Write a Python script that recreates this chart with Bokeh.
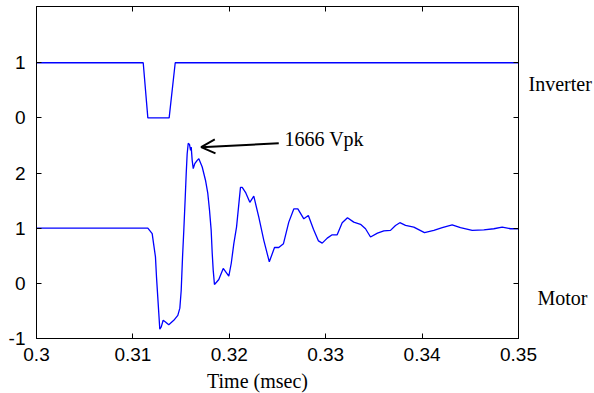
from bokeh.plotting import figure
from bokeh.models import (Range1d, LinearAxis, FixedTicker, Label, Arrow, OpenHead)
from bokeh.embed import file_html
from bokeh.resources import INLINE

# ---- data (time in msec, normalized voltages) ----
motor_t = [0.30000, 0.31155, 0.31200, 0.31217, 0.31234, 0.31245, 0.31258, 0.31269,
           0.31279, 0.31294, 0.31314, 0.31338, 0.31372, 0.31424, 0.31466, 0.31487,
           0.31501, 0.31515, 0.31528, 0.31543, 0.31553, 0.31563, 0.31574, 0.31587,
           0.31598, 0.31605, 0.31615, 0.31626, 0.31642, 0.31667, 0.31684, 0.31719,
           0.31753, 0.31777, 0.31795, 0.31812, 0.31823, 0.31833, 0.31846, 0.31867,
           0.31891, 0.31937, 0.31995, 0.32020, 0.32047, 0.32075, 0.32099, 0.32116,
           0.32134, 0.32168, 0.32213, 0.32254, 0.32306, 0.32358, 0.32415, 0.32469,
           0.32513, 0.32562, 0.32617, 0.32669, 0.32711, 0.32773, 0.32820, 0.32873,
           0.32925, 0.32964, 0.33016, 0.33067, 0.33119, 0.33171, 0.33226, 0.33291,
           0.33361, 0.33413, 0.33465, 0.33537, 0.33603, 0.33672, 0.33724, 0.33769,
           0.33828, 0.33914, 0.34025, 0.34122, 0.34209, 0.34312, 0.34398, 0.34520,
           0.34640, 0.34744, 0.34831, 0.34917, 0.35000]
motor_v = [1.00, 1.00, 0.90, 0.69, 0.48, 0.11, -0.25, -0.55,
           -0.83, -0.79, -0.67, -0.70, -0.75, -0.67, -0.58, -0.45,
           -0.13, 0.48, 0.96, 1.56, 1.99, 2.35, 2.54, 2.52,
           2.41, 2.47, 2.23, 2.08, 2.17, 2.23, 2.26, 2.11,
           1.87, 1.63, 1.32, 0.96, 0.54, 0.24, -0.02, 0.02,
           0.07, 0.27, 0.13, 0.36, 0.72, 1.02, 1.44, 1.74,
           1.74, 1.65, 1.47, 1.58, 1.20, 0.78, 0.39, 0.65,
           0.65, 0.72, 1.11, 1.35, 1.35, 1.17, 1.23, 0.98,
           0.77, 0.73, 0.82, 0.88, 0.88, 1.10, 1.19, 1.11,
           1.07, 0.99, 0.84, 0.91, 0.95, 0.96, 1.05, 1.10,
           1.05, 1.02, 0.92, 0.96, 1.01, 1.06, 1.01, 0.96,
           0.97, 0.99, 1.02, 0.99, 0.99]

inverter_t = [0.30000, 0.31107, 0.31155, 0.31376, 0.31439, 0.35000]
inverter_v = [1, 1, 0, 0, 1, 1]
inverter_offset = 3

x_ticks = [0.30, 0.31, 0.32, 0.33, 0.34, 0.35]
y_ticks = [-1, 0, 1, 2, 3, 4]
y_tick_labels = ["-1", "0", "1", "2", "0", "1"]
trace_names = ["Inverter", "\u00a0\u2009Motor"]
trace_name_pos = [3.62, -0.26]

SANS = "Liberation Sans"
SERIF = "Liberation Serif"
BLUE = "#0000ff"

p = figure(frame_width=482, frame_height=332, output_backend="svg",
           toolbar_location=None, x_range=Range1d(0.30, 0.35),
           y_range=Range1d(-1, 5.02),
           min_border_left=36, min_border_right=76,
           min_border_top=6, min_border_bottom=55,
           background_fill_color="white", border_fill_color="white")
p.xgrid.visible = False
p.ygrid.visible = False
p.outline_line_color = "black"
p.outline_line_width = 1

p.line(motor_t, motor_v, line_color=BLUE, line_width=1.3)
p.line(inverter_t, [v + inverter_offset for v in inverter_v],
       line_color=BLUE, line_width=1.3)


def style_axis(ax):
    ax.axis_line_color = "black"
    ax.axis_line_width = 1
    ax.major_tick_in = 5
    ax.major_tick_out = 0
    ax.minor_tick_line_color = None
    ax.major_tick_line_color = "black"
    ax.major_label_text_font = SANS
    ax.major_label_text_font_size = "19px"
    ax.major_label_text_color = "black"


xa = p.xaxis[0]
xa.ticker = FixedTicker(ticks=x_ticks)
xa.major_label_overrides = {t: f"{t:g}" for t in x_ticks}
style_axis(xa)
xa.major_label_standoff = 9
xa.axis_label = "Time (msec)" + "\u00a0" * 8
xa.axis_label_text_font = SERIF
xa.axis_label_text_font_size = "20px"
xa.axis_label_text_font_style = "normal"
xa.axis_label_text_color = "black"
xa.axis_label_standoff = 6

ya = p.yaxis[0]
ya.ticker = FixedTicker(ticks=y_ticks)
ya.major_label_overrides = {t: l for t, l in zip(y_ticks, y_tick_labels)}
style_axis(ya)
ya.major_label_standoff = 11

top_ax = LinearAxis(ticker=FixedTicker(ticks=x_ticks))
style_axis(top_ax)
top_ax.major_label_overrides = {t: "" for t in x_ticks}
top_ax.major_label_standoff = 0
p.add_layout(top_ax, "above")

right_ax = LinearAxis(ticker=FixedTicker(ticks=trace_name_pos, minor_ticks=y_ticks))
style_axis(right_ax)
right_ax.major_tick_in = 0
right_ax.major_tick_line_color = None
right_ax.minor_tick_line_color = "black"
right_ax.minor_tick_in = 5
right_ax.minor_tick_out = 0
right_ax.major_label_overrides = {t: n for t, n in zip(trace_name_pos, trace_names)}
right_ax.major_label_text_font = SERIF
right_ax.major_label_text_font_size = "20px"
right_ax.major_label_standoff = 10
p.add_layout(right_ax, "right")

# annotation
p.add_layout(Label(x=0.32573, y=2.61, text="1666 Vpk", text_font=SERIF,
                   text_font_size="20px", text_align="left",
                   text_baseline="alphabetic", text_color="black"))
p.add_layout(Arrow(x_start=0.32513, y_start=2.54, x_end=0.31708, y_end=2.47,
                   line_color="black", line_width=2,
                   end=OpenHead(size=14, line_color="black", line_width=2)))

open("out.html", "w").write(file_html(p, INLINE))
